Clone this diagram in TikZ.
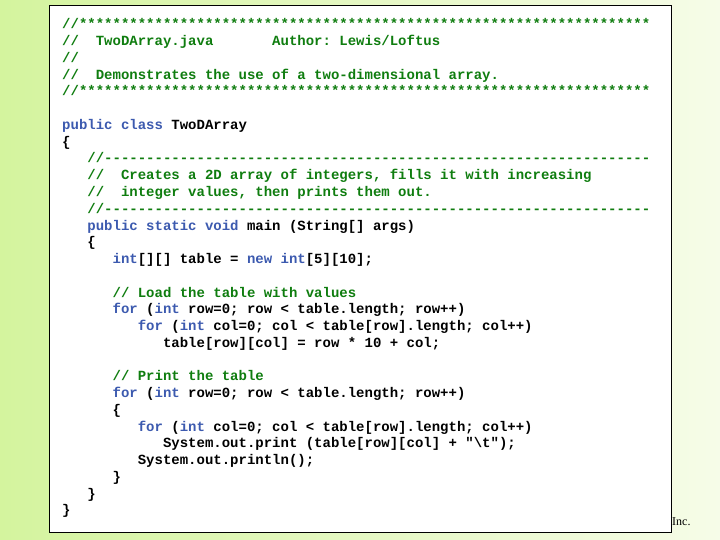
\documentclass[tikz,border=0pt]{standalone}
\usepackage{fontspec}
\setmonofont{Liberation Mono}
\setmainfont{Liberation Serif}
\definecolor{kw}{RGB}{60,90,175}
\definecolor{cm}{RGB}{15,125,15}
\definecolor{bgl}{RGB}{212,244,158}
\definecolor{bgr}{RGB}{246,252,232}
\newcommand{\K}[1]{\textcolor{kw}{#1}}
\newcommand{\C}[1]{\textcolor{cm}{#1}}
\tikzset{codeline/.style={anchor=base west,inner sep=0pt,font=\ttfamily\bfseries\fontsize{14pt}{16pt}\selectfont}}
\begin{document}
\begin{tikzpicture}[x=1pt,y=-1pt]
\useasboundingbox (0,0) rectangle (720,540);
\shade[left color=bgl,right color=bgr] (0,0) rectangle (720,540);
\node[anchor=base west,inner sep=0pt,font=\fontsize{12pt}{14pt}\selectfont] (inc) at (666,525) {, Inc.};
\draw[fill=white,line width=1pt] (49,6) rectangle (671,532);
\def\cw{8.4}
\def\ly#1{29+#1*16.75}
\node[codeline] (l0) at (62,{\ly0}) {\C{//********************************************************************}};
\node[codeline] (l1) at (62,{\ly1}) {\C{//\ \ TwoDArray.java\ \ \ \ \ \ \ Author:\ Lewis/Loftus}};
\node[codeline] (l2) at (62,{\ly2}) {\C{//}};
\node[codeline] (l3) at (62,{\ly3}) {\C{//\ \ Demonstrates\ the\ use\ of\ a\ two-dimensional\ array.}};
\node[codeline] (l4) at (62,{\ly4}) {\C{//********************************************************************}};
\node[codeline] (l6) at (62,{\ly6}) {\K{public\ class}\ TwoDArray};
\node[codeline] (l7) at (62,{\ly7}) {\{};
\node[codeline] (l8) at (62+3*\cw,{\ly8}) {\C{//-----------------------------------------------------------------}};
\node[codeline] (l9) at (62+3*\cw,{\ly9}) {\C{//\ \ Creates\ a\ 2D\ array\ of\ integers,\ fills\ it\ with\ increasing}};
\node[codeline] (l10) at (62+3*\cw,{\ly{10}}) {\C{//\ \ integer\ values,\ then\ prints\ them\ out.}};
\node[codeline] (l11) at (62+3*\cw,{\ly{11}}) {\C{//-----------------------------------------------------------------}};
\node[codeline] (l12) at (62+3*\cw,{\ly{12}}) {\K{public\ static\ void}\ main\ (String[]\ args)};
\node[codeline] (l13) at (62+3*\cw,{\ly{13}}) {\{};
\node[codeline] (l14) at (62+6*\cw,{\ly{14}}) {\K{int}[][]\ table\ =\ \K{new}\ \K{int}[5][10];};
\node[codeline] (l16) at (62+6*\cw,{\ly{16}}) {\C{//\ Load\ the\ table\ with\ values}};
\node[codeline] (l17) at (62+6*\cw,{\ly{17}}) {\K{for}\ (\K{int}\ row=0;\ row\ <\ table.length;\ row++)};
\node[codeline] (l18) at (62+9*\cw,{\ly{18}}) {\K{for}\ (\K{int}\ col=0;\ col\ <\ table[row].length;\ col++)};
\node[codeline] (l19) at (62+12*\cw,{\ly{19}}) {table[row][col]\ =\ row\ *\ 10\ +\ col;};
\node[codeline] (l21) at (62+6*\cw,{\ly{21}}) {\C{//\ Print\ the\ table}};
\node[codeline] (l22) at (62+6*\cw,{\ly{22}}) {\K{for}\ (\K{int}\ row=0;\ row\ <\ table.length;\ row++)};
\node[codeline] (l23) at (62+6*\cw,{\ly{23}}) {\{};
\node[codeline] (l24) at (62+9*\cw,{\ly{24}}) {\K{for}\ (\K{int}\ col=0;\ col\ <\ table[row].length;\ col++)};
\node[codeline] (l25) at (62+12*\cw,{\ly{25}}) {System.out.print\ (table[row][col]\ +\ "\textbackslash t");};
\node[codeline] (l26) at (62+9*\cw,{\ly{26}}) {System.out.println();};
\node[codeline] (l27) at (62+6*\cw,{\ly{27}}) {\}};
\node[codeline] (l28) at (62+3*\cw,{\ly{28}}) {\}};
\node[codeline] (l29) at (62,{\ly{29}}) {\}};
\end{tikzpicture}
\end{document}
